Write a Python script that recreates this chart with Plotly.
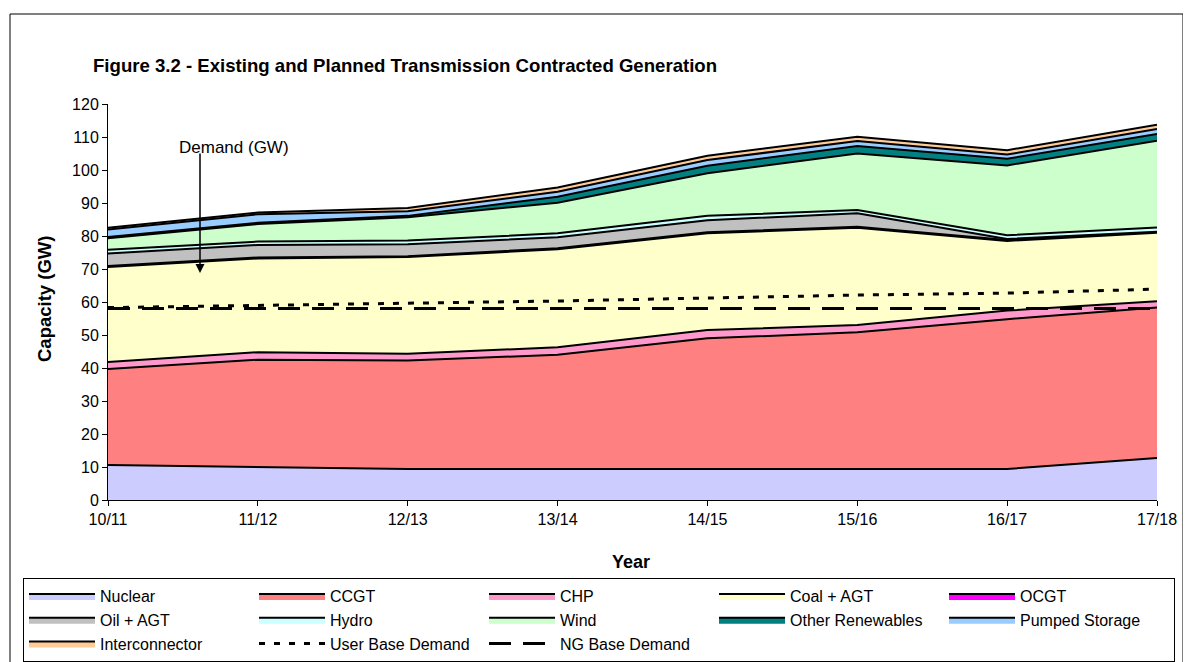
import plotly.graph_objects as go

years = ["10/11", "11/12", "12/13", "13/14", "14/15", "15/16", "16/17", "17/18"]

nuclear = [10.6, 9.9, 9.4, 9.4, 9.4, 9.4, 9.4, 12.7]
ccgt = [29.1, 32.6, 32.9, 34.6, 39.6, 41.4, 45.4, 45.6]
chp = [2.1, 2.3, 2.0, 2.3, 2.5, 2.2, 2.6, 1.9]
coal_agt = [28.8, 28.4, 29.3, 29.7, 29.3, 29.5, 21.1, 20.8]
ocgt = [0.3, 0.3, 0.3, 0.3, 0.3, 0.3, 0.3, 0.3]
oil_agt = [3.8, 3.8, 3.6, 3.3, 3.7, 4.1, 0.3, 0.0]
hydro = [1.1, 1.0, 1.1, 1.2, 1.3, 1.0, 1.1, 1.3]
wind = [3.5, 5.3, 7.1, 9.3, 12.9, 17.1, 21.2, 26.3]
other_renewables = [0.4, 0.4, 0.4, 1.8, 2.3, 2.3, 2.0, 2.0]
pumped_storage = [2.3, 2.6, 1.4, 1.5, 1.7, 1.5, 1.3, 1.5]
interconnector = [0.5, 0.5, 1.0, 1.3, 1.3, 1.3, 1.3, 1.3]

user_base_demand = [58.3, 58.9, 59.6, 60.3, 61.2, 62.1, 62.7, 63.9]
ng_base_demand = [58.0, 58.0, 58.0, 58.0, 58.0, 58.0, 58.0, 58.0]

y_ticks = [0, 10, 20, 30, 40, 50, 60, 70, 80, 90, 100, 110, 120]

stack_series = [
    ("Nuclear", nuclear, "#CCCCFF"),
    ("CCGT", ccgt, "#FF8080"),
    ("CHP", chp, "#FF99CC"),
    ("Coal + AGT", coal_agt, "#FFFFCC"),
    ("OCGT", ocgt, "#FF00FF"),
    ("Oil + AGT", oil_agt, "#C0C0C0"),
    ("Hydro", hydro, "#CCFFFF"),
    ("Wind", wind, "#CCFFCC"),
    ("Other Renewables", other_renewables, "#008080"),
    ("Pumped Storage", pumped_storage, "#99CCFF"),
    ("Interconnector", interconnector, "#FFCC99"),
]

FONT = "Liberation Sans, Arial, sans-serif"

fig = go.Figure()
for name, vals, col in stack_series:
    fig.add_trace(go.Scatter(
        x=years, y=vals, name=name, mode="lines", stackgroup="gen",
        line=dict(color="black", width=2), fillcolor=col,
        hoverinfo="x+y+name",
    ))

fig.add_trace(go.Scatter(
    x=years, y=user_base_demand, name="User Base Demand", mode="lines",
    line=dict(color="black", width=3, dash="6px,9px"),
))
fig.add_trace(go.Scatter(
    x=years, y=ng_base_demand, name="NG Base Demand", mode="lines",
    line=dict(color="black", width=3, dash="22px,12px"),
))

# The page body has an 8px margin: figure pixel = page pixel - 8
OFF = 8
W, H = 1191 - OFF, 662 - OFF
L, R, T, B = 108 - OFF, 1157 - OFF, 104 - OFF, 500 - OFF
pw, ph = R - L, B - T


def px(xp):
    return (xp - OFF - L) / pw


def py(yp):
    return (B - (yp - OFF)) / ph


fig.update_layout(
    width=W, height=H,
    margin=dict(l=L, r=W - R, t=T, b=H - B, autoexpand=False),
    paper_bgcolor="white", plot_bgcolor="white",
    font=dict(family=FONT, size=16, color="black"),
    showlegend=True,
    legend=dict(
        orientation="h", traceorder="normal",
        x=px(23), y=py(578), xanchor="left", yanchor="top",
        bordercolor="black", borderwidth=1, bgcolor="white",
        font=dict(family=FONT, size=16, color="black"),
        itemwidth=66, entrywidth=149, entrywidthmode="pixels",
    ),
    xaxis=dict(
        type="category", range=[0, 7], showgrid=False, zeroline=False,
        showline=True, linecolor="black", linewidth=1,
        ticks="outside", ticklen=5, tickcolor="black",
        tickfont=dict(size=16), fixedrange=True,
    ),
    yaxis=dict(
        range=[0, 120], tickvals=y_ticks, showgrid=False, zeroline=False,
        showline=True, linecolor="black", linewidth=1,
        ticks="outside", ticklen=5, tickcolor="black",
        tickfont=dict(size=16), fixedrange=True,
    ),
    shapes=[
        dict(type="rect", xref="paper", yref="paper",
             x0=px(10), x1=px(1183), y0=py(664), y1=py(14),
             line=dict(color="black", width=1), fillcolor="rgba(0,0,0,0)",
             layer="below"),
    ],
    annotations=[
        dict(text="<b>Figure 3.2 - Existing and Planned Transmission Contracted Generation</b>",
             xref="paper", yref="paper", x=px(91), y=py(66),
             xanchor="left", yanchor="middle", showarrow=False,
             font=dict(size=18.6)),
        dict(text="<b>Capacity (GW)</b>", xref="paper", yref="paper",
             x=px(44), y=py(299), textangle=-90, xanchor="center", yanchor="middle",
             showarrow=False, font=dict(size=18.5)),
        dict(text="<b>Year</b>", xref="paper", yref="paper",
             x=px(631), y=py(562), xanchor="center", yanchor="middle",
             showarrow=False, font=dict(size=18)),
        dict(text="Demand (GW)", xref="paper", yref="paper",
             x=px(177), y=py(147), xanchor="left", yanchor="middle",
             showarrow=False, font=dict(size=17)),
        dict(text="", xref="paper", yref="paper",
             x=px(200), y=py(273), ax=0, ay=-121, axref="pixel", ayref="pixel",
             showarrow=True, arrowhead=2, arrowsize=1.2, arrowwidth=1.5,
             arrowcolor="black"),
    ],
)

fig.write_html("out.html")
